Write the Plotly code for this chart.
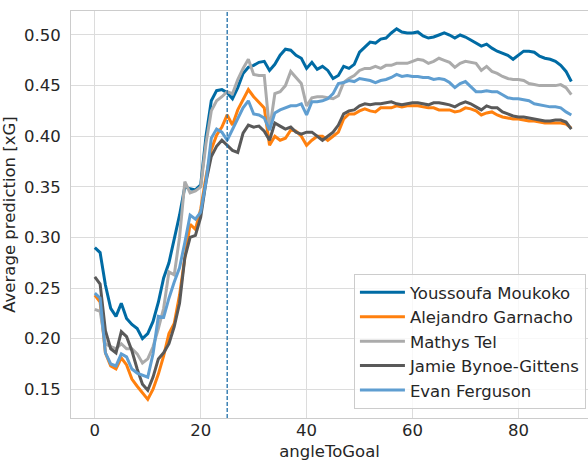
import plotly.graph_objects as go

angles = list(range(0, 91))

moukoko = [0.290, 0.285, 0.253, 0.230, 0.222, 0.235, 0.220, 0.214, 0.210, 0.200,
           0.205, 0.217, 0.236, 0.260, 0.275, 0.298, 0.322, 0.350, 0.348, 0.347,
           0.352, 0.400, 0.435, 0.445, 0.446, 0.443, 0.437, 0.448, 0.462, 0.468,
           0.470, 0.473, 0.474, 0.465, 0.471, 0.480, 0.486, 0.485, 0.480, 0.477,
           0.467, 0.473, 0.466, 0.469, 0.465, 0.457, 0.460, 0.469, 0.467, 0.471,
           0.483, 0.488, 0.493, 0.492, 0.496, 0.497, 0.502, 0.506, 0.503, 0.502,
           0.502, 0.503, 0.499, 0.497, 0.498, 0.500, 0.502, 0.500, 0.497, 0.500,
           0.498, 0.495, 0.492, 0.489, 0.491, 0.487, 0.484, 0.482, 0.480, 0.476,
           0.480, 0.484, 0.484, 0.483, 0.479, 0.477, 0.476, 0.474, 0.470, 0.464,
           0.454]

garnacho = [0.243, 0.236, 0.186, 0.173, 0.170, 0.181, 0.174, 0.160, 0.153, 0.146,
            0.140, 0.150, 0.165, 0.183, 0.205, 0.215, 0.243, 0.280, 0.313, 0.308,
            0.328, 0.360, 0.387, 0.401, 0.409, 0.421, 0.411, 0.426, 0.436, 0.446,
            0.439, 0.433, 0.428, 0.391, 0.400, 0.396, 0.398, 0.406, 0.405, 0.400,
            0.391, 0.396, 0.400, 0.400, 0.396, 0.400, 0.404, 0.417, 0.422, 0.422,
            0.425, 0.427, 0.425, 0.424, 0.428, 0.428, 0.428, 0.430, 0.429, 0.430,
            0.430, 0.430, 0.429, 0.428, 0.428, 0.426, 0.426, 0.426, 0.424, 0.425,
            0.428, 0.427, 0.425, 0.421, 0.423, 0.424, 0.421, 0.419, 0.418, 0.417,
            0.417, 0.416, 0.415, 0.415, 0.414, 0.413, 0.413, 0.413, 0.413, 0.412,
            0.408]

tel = [0.229, 0.227, 0.195, 0.192, 0.190, 0.195, 0.190, 0.190, 0.185, 0.176,
       0.180, 0.192, 0.210, 0.230, 0.266, 0.263, 0.300, 0.355, 0.344, 0.346,
       0.350, 0.393, 0.425, 0.435, 0.439, 0.444, 0.442, 0.456, 0.467, 0.476,
       0.461, 0.460, 0.460, 0.406, 0.442, 0.444, 0.450, 0.464, 0.458, 0.452,
       0.430, 0.438, 0.439, 0.439, 0.438, 0.437, 0.440, 0.453, 0.457, 0.460,
       0.465, 0.467, 0.467, 0.469, 0.467, 0.470, 0.470, 0.472, 0.472, 0.472,
       0.474, 0.476, 0.475, 0.472, 0.474, 0.477, 0.475, 0.473, 0.468, 0.472,
       0.474, 0.473, 0.472, 0.465, 0.469, 0.464, 0.462, 0.459, 0.457, 0.456,
       0.456, 0.455, 0.452, 0.451, 0.450, 0.450, 0.450, 0.450, 0.451, 0.448,
       0.441]

bynoe = [0.261, 0.254, 0.208, 0.190, 0.186, 0.207, 0.202, 0.188, 0.170, 0.155,
         0.149, 0.162, 0.180, 0.186, 0.195, 0.212, 0.235, 0.280, 0.300, 0.302,
         0.320, 0.355, 0.380, 0.390, 0.396, 0.391, 0.386, 0.384, 0.403, 0.411,
         0.409, 0.410, 0.405, 0.396, 0.413, 0.410, 0.407, 0.409, 0.404, 0.402,
         0.404, 0.404, 0.400, 0.396, 0.400, 0.404, 0.411, 0.422, 0.425, 0.426,
         0.430, 0.432, 0.431, 0.432, 0.432, 0.433, 0.434, 0.432, 0.431, 0.432,
         0.433, 0.433, 0.432, 0.431, 0.433, 0.433, 0.432, 0.431, 0.429, 0.432,
         0.434, 0.432, 0.429, 0.426, 0.430, 0.428, 0.428, 0.424, 0.422, 0.420,
         0.419, 0.419, 0.418, 0.417, 0.416, 0.415, 0.415, 0.416, 0.416, 0.414,
         0.407]

ferguson = [0.245, 0.240, 0.186, 0.175, 0.173, 0.185, 0.182, 0.170, 0.166, 0.164,
            0.162, 0.185, 0.222, 0.221, 0.240, 0.256, 0.270, 0.295, 0.322, 0.318,
            0.325, 0.355, 0.398, 0.407, 0.404, 0.396, 0.407, 0.418, 0.428, 0.435,
            0.422, 0.421, 0.418, 0.406, 0.423, 0.426, 0.428, 0.430, 0.430, 0.432,
            0.421, 0.434, 0.434, 0.435, 0.437, 0.442, 0.452, 0.453, 0.455, 0.454,
            0.457, 0.456, 0.455, 0.453, 0.455, 0.456, 0.458, 0.461, 0.459, 0.460,
            0.459, 0.459, 0.458, 0.458, 0.456, 0.457, 0.456, 0.453, 0.448, 0.452,
            0.454, 0.449, 0.444, 0.444, 0.445, 0.444, 0.444, 0.441, 0.438, 0.437,
            0.437, 0.436, 0.435, 0.432, 0.431, 0.430, 0.429, 0.429, 0.428, 0.424,
            0.421]

names = ["Youssoufa Moukoko", "Alejandro Garnacho", "Mathys Tel",
         "Jamie Bynoe-Gittens", "Evan Ferguson"]
series = [moukoko, garnacho, tel, bynoe, ferguson]
colors = ["#006BA4", "#FF800E", "#ABABAB", "#595959", "#5F9ED1"]

threshold_angle = 25
x_ticks = [0, 20, 40, 60, 80]
y_ticks = [0.15, 0.20, 0.25, 0.30, 0.35, 0.40, 0.45, 0.50]

fig = go.Figure()
for i, (name, ys, c) in enumerate(zip(names, series, colors)):
    fig.add_trace(go.Scatter(x=angles, y=ys, mode="lines", name=name,
                             legendgroup=f"g{i}",
                             line=dict(color=c, width=3)))

fig.add_vline(x=threshold_angle, line=dict(color="#1f6fa8", width=1.3, dash="4px,2px"))

txt = "#262626"
grid = "#dcdcdc"
fs = 16.5
fig.update_layout(
    width=588, height=461,
    margin=dict(l=71, r=0, t=11, b=43, autoexpand=False),
    paper_bgcolor="white", plot_bgcolor="white",
    font=dict(family="DejaVu Sans", size=fs, color=txt),
    showlegend=True,
    legend=dict(x=0.996, y=0.022, xanchor="right", yanchor="bottom",
                bgcolor="rgba(255,255,255,0.8)", bordercolor="#cccccc", borderwidth=1,
                font=dict(size=fs, color=txt), tracegroupgap=0, itemwidth=45),
    xaxis=dict(range=[-4.5, 93.15], tickvals=x_ticks, showgrid=True, gridcolor=grid,
               gridwidth=1, zeroline=False, showline=True, linecolor="#cccccc",
               linewidth=1, mirror=True, ticks="", ticklabelstandoff=-3,
               tickfont=dict(size=fs, color=txt),
               title=dict(text="angleToGoal", font=dict(size=fs, color=txt), standoff=6)),
    yaxis=dict(range=[0.1216, 0.5237], tickvals=y_ticks, tickformat=".2f",
               showgrid=True, gridcolor=grid, gridwidth=1, zeroline=False,
               showline=True, linecolor="#cccccc", linewidth=1, mirror=False,
               ticks="", ticklabelstandoff=6, tickfont=dict(size=fs, color=txt),
               title=dict(text="Average prediction [xG]", font=dict(size=fs, color=txt),
                          standoff=9)),
)

# remove the default 8px page margin so the figure sits at the window's corner
fig.write_html("out.html", config={"displayModeBar": False},
               post_script="document.body.style.margin='0';")
